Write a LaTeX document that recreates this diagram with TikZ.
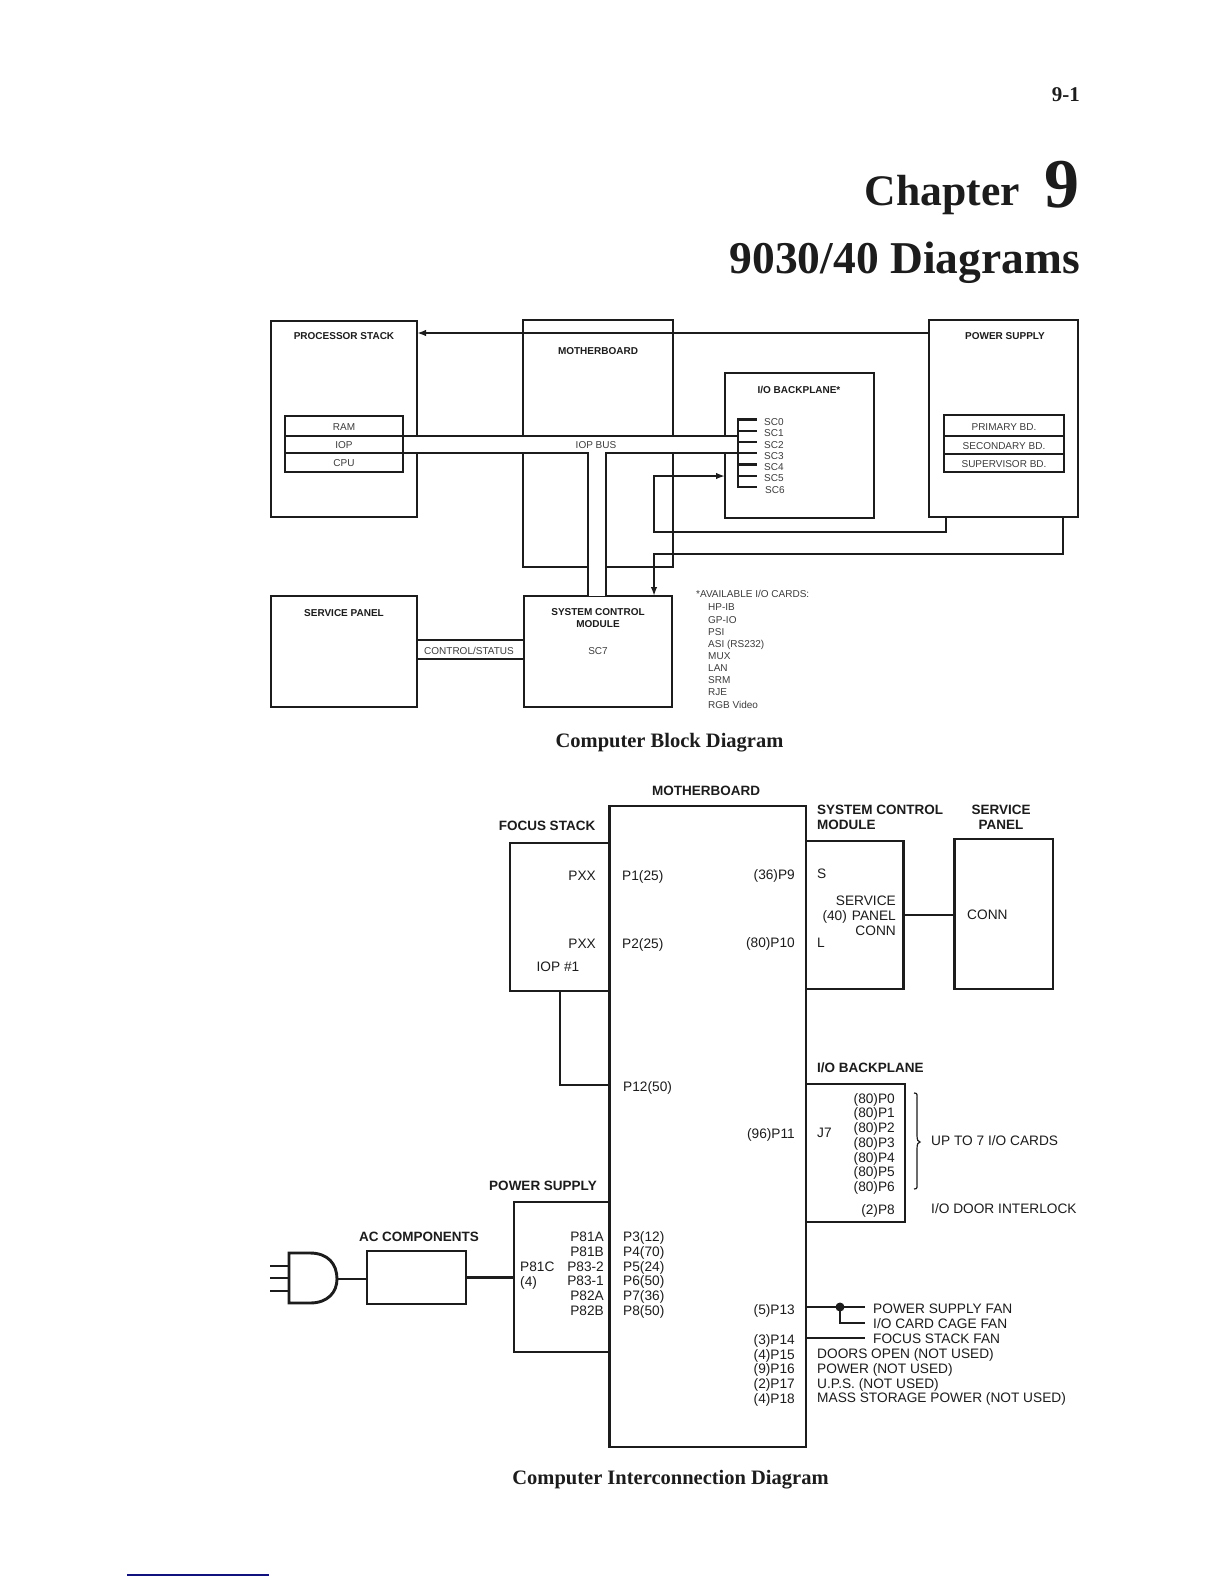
\documentclass[tikz,border=0pt]{standalone}
\usepackage{fontspec}
\setmainfont{Liberation Serif}
\setsansfont{Liberation Sans}
\usepackage{tikz}
\usetikzlibrary{arrows.meta,calc,positioning}
\definecolor{ink}{HTML}{1C1C1C}
\definecolor{faded}{HTML}{3C3C3C}
\definecolor{rulecut}{HTML}{10107F}
\tikzset{
  boxline/.style={draw=ink,line width=2.9pt,inner sep=0pt,outer sep=0pt,line join=miter},
  subbox/.style={draw=ink,line width=2.2pt,inner sep=0pt,outer sep=0pt},
  wire/.style={draw=ink,line width=1.9pt},
  heavywire/.style={draw=ink,line width=2.4pt},
  tipped/.style={-{Latex[length=9pt,width=6.5pt]}},
  smallhead/.style={font=\sffamily\bfseries\fontsize{10}{11.5}\selectfont,text=ink,inner sep=0pt,text height=7.2pt,text depth=0pt,yshift=-1pt},
  smalltext/.style={font=\sffamily\fontsize{10}{11.5}\selectfont,text=faded,inner sep=0pt,text height=7.2pt,text depth=0pt,yshift=-1pt},
  bighead/.style={font=\sffamily\bfseries\fontsize{13.5}{15.2}\selectfont,text=ink,inner sep=0pt,text height=9.7pt,text depth=0pt,yshift=-1pt},
  bigtext/.style={font=\sffamily\fontsize{13.7}{15}\selectfont,text=ink,inner sep=0pt,text height=9.8pt,text depth=0pt,yshift=-1pt},
  block/.style={text height=,text depth=,align=#1},
  caption/.style={font=\bfseries\fontsize{20.5}{23}\selectfont,text=ink,inner sep=0pt},
}
\begin{document}
\begin{tikzpicture}[x=1pt,y=-1pt]
  \useasboundingbox (0,0) rectangle (1224,1584);
  \fill[white] (0,0) rectangle (1224,1584);

  % page head
  \node[font=\bfseries\fontsize{21}{24}\selectfont,text=ink,anchor=base east,inner sep=0pt] (pageno) at (1080,102) {9-1};
  \node[font=\bfseries\fontsize{70}{70}\selectfont,text=ink,anchor=base east,inner sep=0pt] (chapnum) at (1080,207) {9};
  \node[font=\bfseries\fontsize{43.6}{46}\selectfont,text=ink,anchor=base east,inner sep=0pt] (chapword) at (1020,205) {Chapter};
  \node[font=\bfseries\fontsize{45.5}{48}\selectfont,text=ink,anchor=base east,inner sep=0pt] (chaptitle) at (1080,273) {9030/40 Diagrams};

  % block diagram
  \node[boxline,minimum width=150pt,minimum height=247pt] (mboard) at (598,443.5) {};
  \node[boxline,minimum width=146pt,minimum height=196pt] (procstack) at (344,419) {};
  \node[boxline,minimum width=149pt,minimum height=145pt] (iobp) at (799.5,445.5) {};
  \node[boxline,minimum width=149pt,minimum height=197pt] (psu) at (1003.5,418.5) {};
  \node[boxline,minimum width=146pt,minimum height=111pt] (svc) at (344,651.5) {};
  \node[boxline,minimum width=148pt,minimum height=111pt] (scm) at (598,651.5) {};
  \node[subbox,minimum width=118pt,minimum height=20pt] (stackram) at (344,426) {};
  \node[subbox,minimum width=118pt,minimum height=17pt] (stackiop) at (344,444.5) {};
  \node[subbox,minimum width=118pt,minimum height=19pt] (stackcpu) at (344,462.5) {};
  \node[subbox,minimum width=120pt,minimum height=21pt] (psprim) at (1004,425.5) {};
  \node[subbox,minimum width=120pt,minimum height=18pt] (pssec) at (1004,445) {};
  \node[subbox,minimum width=120pt,minimum height=18pt] (pssup) at (1004,463) {};

  % IOP bus, cut through the box walls
  \coordinate (busend) at (738,436);
  \coordinate (dropleft) at (588,453);
  \coordinate (dropright) at (606,453);
  \fill[white] ($(stackiop.north east)+(1.2,1)$) rectangle ($(busend)+(0,16)$);
  \fill[white] (dropleft) rectangle (dropright |- scm.north);
  \draw[wire] (stackiop.north east) -- (busend);
  \draw[wire] (stackiop.south east) -- (dropleft) -- (dropleft |- scm.north);
  \draw[wire] (busend |- stackiop.south) -- (dropright) -- (dropright |- scm.north);

  % SC connector bar
  \draw[heavywire] (738,418) -- (738,487.8);
  \foreach \yy in {419.3,430.7,441.7,453,464.3,475.7,486.7}
    \draw[heavywire] (738,\yy) -- (757,\yy);

  % power wires
  \coordinate (feedrail) at (0,333);
  \coordinate (tapleft) at (946,517);
  \coordinate (tapright) at (1063,517);
  \coordinate (riser) at (654,476);
  \draw[wire,tipped] (psu.west |- feedrail) -- (procstack.east |- feedrail);
  \draw[wire,tipped] (tapleft) -- (946,532) -- (654,532) -- (riser) -- (iobp.west |- riser);
  \draw[wire,tipped] (tapright) -- (1063,554) -- (654,554) -- (654,596);
  \draw[wire] ($(svc.east)+(0,-11.5)$) -- ($(scm.west)+(0,-11.5)$);
  \draw[wire] ($(svc.east)+(0,7.5)$) -- ($(scm.west)+(0,7.5)$);

  \node[smallhead] (lblproc) at (344,335) {PROCESSOR STACK};
  \node[smallhead] (lblmboard) at (598,350) {MOTHERBOARD};
  \node[smallhead] (lbliobp) at (799,388.5) {I/O BACKPLANE*};
  \node[smallhead] (lblpsu) at (1005,335) {POWER SUPPLY};
  \node[smallhead] (lblsvc) at (344,612) {SERVICE PANEL};
  \node[smallhead,block=center] (lblscm) at (598,617) {SYSTEM CONTROL\\MODULE};
  \node[smalltext] (lblram) at (344,426) {RAM};
  \node[smalltext] (lbliop) at (344,444) {IOP};
  \node[smalltext] (lblcpu) at (344,462) {CPU};
  \node[smalltext] (lblbus) at (596,443.5) {IOP BUS};
  \node[smalltext] (lblctrl) at (469,649.5) {CONTROL/STATUS};
  \node[smalltext] (lblsc7) at (598,649.5) {SC7};
  \node[smalltext] (lblprim) at (1004,425.5) {PRIMARY BD.};
  \node[smalltext] (lblsec) at (1004,445) {SECONDARY BD.};
  \node[smalltext] (lblsup) at (1004,463) {SUPERVISOR BD.};
  \node[smalltext,anchor=west] (lblsc0) at (764,421) {SC0};
  \node[smalltext,anchor=west] (lblsc1) at (764,432) {SC1};
  \node[smalltext,anchor=west] (lblsc2) at (764,443.5) {SC2};
  \node[smalltext,anchor=west] (lblsc3) at (764,455) {SC3};
  \node[smalltext,anchor=west] (lblsc4) at (764,466) {SC4};
  \node[smalltext,anchor=west] (lblsc5) at (764,477) {SC5};
  \node[smalltext,anchor=west] (lblsc6) at (765,488.5) {SC6};
  \node[smalltext,anchor=west] (lblcards) at (696,593) {*AVAILABLE I/O CARDS:};
  \node[smalltext,anchor=west] (cardhpib) at (708,606) {HP-IB};
  \node[smalltext,anchor=west] (cardgpio) at (708,619) {GP-IO};
  \node[smalltext,anchor=west] (cardpsi) at (708,631) {PSI};
  \node[smalltext,anchor=west] (cardasi) at (708,643) {ASI (RS232)};
  \node[smalltext,anchor=west] (cardmux) at (708,655) {MUX};
  \node[smalltext,anchor=west] (cardlan) at (708,667) {LAN};
  \node[smalltext,anchor=west] (cardsrm) at (708,679) {SRM};
  \node[smalltext,anchor=west] (cardrje) at (708,691) {RJE};
  \node[smalltext,anchor=west] (cardrgb) at (708,704) {RGB Video};
  \node[caption] (capblock) at (669.5,743) {Computer Block Diagram};

  % interconnection diagram
  \node[boxline,minimum width=196.5pt,minimum height=641pt] (mother) at (707.75,1126.5) {};
  \node[boxline,minimum width=99.5pt,minimum height=148pt] (focus) at (559.75,917) {};
  \node[boxline,minimum width=97.5pt,minimum height=148pt] (ctrlmod) at (854.75,915) {};
  \node[boxline,minimum width=98.5pt,minimum height=150pt] (panel) at (1003.75,914) {};
  \node[boxline,minimum width=99pt,minimum height=138pt] (backplane) at (855.5,1153) {};
  \node[boxline,minimum width=95.5pt,minimum height=150pt] (supply) at (561.75,1277) {};
  \node[boxline,minimum width=99pt,minimum height=53pt] (accomp) at (416.5,1277.5) {};

  % plug
  \coordinate (plugtip) at (337,1279);
  \draw[boxline,fill=white] (310,1253) -- (289,1253) -- (289,1303) -- (310,1303) .. controls (328,1303) and (337,1292) .. (plugtip) .. controls (337,1264) and (328,1253) .. (310,1253) -- cycle;
  \draw[wire] (270,1266) -- (289,1266);
  \draw[wire] (270,1278) -- (289,1278);
  \draw[wire] (270,1291) -- (289,1291);
  \draw[heavywire] (plugtip) -- (accomp.west |- plugtip);
  \draw[heavywire] (accomp.east) -- (accomp.east -| supply.west);
  \draw[heavywire] (ctrlmod.east) -- (ctrlmod.east -| panel.west);
  \coordinate (ioplink) at (0,1085);
  \draw[heavywire] (focus.south) |- (mother.west |- ioplink);

  % fan wires
  \coordinate (fanrail) at (0,1307);
  \coordinate (fanjoin) at (840,1307);
  \coordinate (cagefan) at (865,1323);
  \coordinate (focusfan) at (865,1338);
  \draw[heavywire] (mother.east |- fanrail) -- (865,1307);
  \fill[ink] (fanjoin) circle (4.5pt);
  \draw[heavywire] (fanjoin) |- (cagefan);
  \draw[heavywire] (mother.east |- focusfan) -- (focusfan);
  \draw[line width=1.2pt,ink] (914,1093) .. controls (918,1093) and (917,1095) .. (917,1100) -- (917,1135) .. controls (917,1140) and (918,1142) .. (920,1142) .. controls (918,1142) and (917,1144) .. (917,1149) -- (917,1182) .. controls (917,1187) and (918,1189) .. (914,1189);

  \node[bighead] (hdmother) at (706,790) {MOTHERBOARD};
  \node[bighead] (hdfocus) at (547,825) {FOCUS STACK};
  \node[bighead,block=left,anchor=west] (hdctrl) at (817,816) {SYSTEM CONTROL\\MODULE};
  \node[bighead,block=center] (hdpanel) at (1001,816) {SERVICE\\PANEL};
  \node[bighead,anchor=west] (hdback) at (817,1067) {I/O BACKPLANE};
  \node[bighead] (hdsupply) at (543,1185) {POWER SUPPLY};
  \node[bighead] (hdac) at (419,1236) {AC COMPONENTS};

  \node[bigtext,anchor=east] (fspxxa) at (596,875) {PXX};
  \node[bigtext,anchor=east] (fspxxb) at (596,943) {PXX};
  \node[bigtext] (fsiop) at (558,966) {IOP \#1};
  \node[bigtext,anchor=west] (mbpa) at (622,875) {P1(25)};
  \node[bigtext,anchor=west] (mbpb) at (622,943) {P2(25)};
  \node[bigtext,anchor=west] (mbpc) at (623,1086) {P12(50)};
  \node[bigtext,anchor=east] (mbpnine) at (795,874) {(36)P9};
  \node[bigtext,anchor=east] (mbpten) at (795,942) {(80)P10};
  \node[bigtext,anchor=east] (mbpele) at (795,1133) {(96)P11};
  \node[bigtext,anchor=west] (cms) at (817,873) {S};
  \node[bigtext,anchor=west] (cml) at (817,942) {L};
  \node[bigtext,block=right,anchor=east] (cmconn) at (896,915) {SERVICE\\(40)\hspace{5pt}PANEL\\CONN};
  \node[bigtext,anchor=west] (spconn) at (967,914) {CONN};

  \node[bigtext,anchor=east] (psa) at (604,1236) {P81A};
  \node[bigtext,anchor=east] (psb) at (604,1251) {P81B};
  \node[bigtext,anchor=east] (psc) at (604,1266) {P83-2};
  \node[bigtext,anchor=east] (psd) at (604,1280) {P83-1};
  \node[bigtext,anchor=east] (pse) at (604,1295) {P82A};
  \node[bigtext,anchor=east] (psf) at (604,1310) {P82B};
  \node[bigtext,anchor=west] (psconn) at (520,1266) {P81C};
  \node[bigtext,anchor=west] (psfour) at (520,1281) {(4)};
  \node[bigtext,anchor=west] (mpa) at (623,1236) {P3(12)};
  \node[bigtext,anchor=west] (mpb) at (623,1251) {P4(70)};
  \node[bigtext,anchor=west] (mpc) at (623,1266) {P5(24)};
  \node[bigtext,anchor=west] (mpd) at (623,1280) {P6(50)};
  \node[bigtext,anchor=west] (mpe) at (623,1295) {P7(36)};
  \node[bigtext,anchor=west] (mpf) at (623,1310) {P8(50)};

  \node[bigtext,anchor=west] (bpjack) at (817,1132) {J7};
  \node[bigtext,anchor=east] (bpa) at (895,1098) {(80)P0};
  \node[bigtext,anchor=east] (bpb) at (895,1112) {(80)P1};
  \node[bigtext,anchor=east] (bpc) at (895,1127) {(80)P2};
  \node[bigtext,anchor=east] (bpd) at (895,1142) {(80)P3};
  \node[bigtext,anchor=east] (bpe) at (895,1157) {(80)P4};
  \node[bigtext,anchor=east] (bpf) at (895,1171) {(80)P5};
  \node[bigtext,anchor=east] (bpg) at (895,1186) {(80)P6};
  \node[bigtext,anchor=east] (bph) at (895,1209) {(2)P8};
  \node[bigtext,anchor=west] (bpcards) at (931,1140) {UP TO 7 I/O CARDS};
  \node[bigtext,anchor=west] (bpdoor) at (931,1208) {I/O DOOR INTERLOCK};

  \node[bigtext,anchor=east] (mpm) at (795,1309) {(5)P13};
  \node[bigtext,anchor=east] (mpn) at (795,1339) {(3)P14};
  \node[bigtext,anchor=east] (mpo) at (795,1354) {(4)P15};
  \node[bigtext,anchor=east] (mpp) at (795,1368) {(9)P16};
  \node[bigtext,anchor=east] (mpq) at (795,1383) {(2)P17};
  \node[bigtext,anchor=east] (mpr) at (795,1398) {(4)P18};
  \node[bigtext,anchor=west] (fanpsu) at (873,1308) {POWER SUPPLY FAN};
  \node[bigtext,anchor=west] (fancage) at (873,1323) {I/O CARD CAGE FAN};
  \node[bigtext,anchor=west] (fanfocus) at (873,1338) {FOCUS STACK FAN};
  \node[bigtext,anchor=west] (nudoors) at (817,1353) {DOORS OPEN (NOT USED)};
  \node[bigtext,anchor=west] (nupower) at (817,1368) {POWER (NOT USED)};
  \node[bigtext,anchor=west] (nuups) at (817,1383) {U.P.S. (NOT USED)};
  \node[bigtext,anchor=west] (numass) at (817,1397) {MASS STORAGE POWER (NOT USED)};
  \node[caption] (capinter) at (670.5,1480) {Computer Interconnection Diagram};

  \draw[line width=1.2pt,rulecut] (127,1575) -- (269,1575);
\end{tikzpicture}
\end{document}
